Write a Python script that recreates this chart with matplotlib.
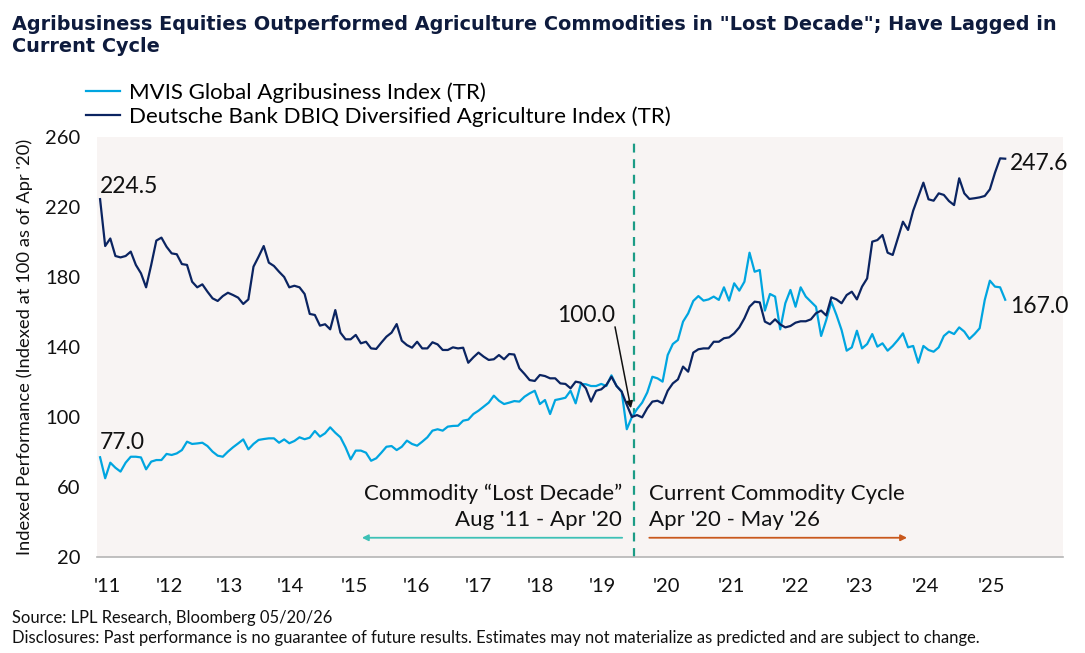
import numpy as np
import matplotlib
matplotlib.use("Agg")
import matplotlib.pyplot as plt

# =========================
# DATA (monthly, Aug '11 - May '26)
# =========================
mvis = [
    77.0, 65.0, 73.9, 71.0, 68.8, 73.9, 77.3, 77.3, 76.9, 70.1,
    74.5, 75.4, 75.4, 78.9, 78.3, 79.2, 81.1, 85.9, 84.6, 84.9,
    85.3, 83.4, 80.2, 77.9, 77.3, 80.2, 82.7, 84.9, 87.2, 81.5,
    84.6, 86.9, 87.4, 87.8, 87.8, 85.3, 87.2, 85.0, 86.3, 88.4,
    87.3, 88.2, 92.0, 88.8, 90.7, 94.1, 91.0, 88.4, 82.7, 75.8,
    80.8, 80.8, 79.6, 75.0, 76.4, 79.6, 83.0, 83.4, 81.1, 83.0,
    86.5, 84.6, 83.6, 85.9, 88.4, 92.2, 93.0, 92.2, 94.5, 94.9,
    95.0, 97.9, 98.5, 101.7, 103.6, 105.9, 108.2, 112.2, 109.3, 107.4,
    108.2, 109.1, 108.8, 111.6, 113.5, 115.0, 107.4, 109.7, 101.7, 109.7,
    110.3, 111.0, 115.0, 107.8, 118.9, 118.7, 117.7, 117.7, 118.9, 117.7,
    123.8, 117.7, 114.5, 93.0, 100.0, 104.5, 108.2, 114.0, 123.0, 122.1,
    120.2, 135.4, 141.7, 144.0, 154.5, 159.2, 166.3, 169.1, 166.5, 167.2,
    168.8, 166.9, 174.1, 166.5, 176.4, 172.2, 177.3, 193.9, 183.0, 184.0,
    160.8, 170.3, 168.8, 150.1, 165.0, 172.6, 163.0, 174.1, 168.8, 165.9,
    163.0, 146.3, 155.4, 165.9, 158.3, 149.7, 137.9, 139.8, 149.3, 139.2,
    141.7, 147.4, 140.2, 142.1, 137.9, 140.6, 144.0, 147.8, 139.8, 140.6,
    131.0, 140.6, 138.3, 137.3, 139.8, 146.3, 148.8, 147.4, 151.2, 148.8,
    144.6, 147.4, 150.7, 166.9, 177.9, 174.5, 174.1, 167.0,
]

dbiq = [
    224.5, 197.7, 202.0, 192.0, 191.2, 192.0, 194.5, 186.9, 182.1, 174.1,
    186.9, 200.8, 202.5, 197.3, 193.5, 193.0, 187.4, 186.9, 177.3, 174.1,
    175.8, 171.6, 167.8, 166.3, 169.1, 171.0, 169.7, 168.2, 164.6, 167.2,
    185.9, 191.6, 197.7, 188.2, 186.3, 183.0, 180.0, 174.1, 175.0, 174.1,
    170.3, 158.9, 158.3, 152.2, 153.0, 150.1, 161.1, 148.2, 144.4, 144.4,
    146.9, 142.1, 143.0, 139.2, 138.9, 142.5, 145.9, 148.2, 153.1, 143.6,
    141.1, 139.6, 143.0, 139.2, 139.2, 142.7, 141.5, 138.3, 138.3, 139.8,
    139.2, 139.6, 131.0, 134.1, 136.8, 134.5, 132.6, 133.0, 135.4, 133.0,
    136.0, 135.7, 127.8, 124.6, 121.1, 120.6, 124.0, 123.4, 122.1, 122.1,
    119.2, 118.9, 116.4, 120.2, 119.6, 116.4, 108.8, 115.0, 115.8, 118.3,
    123.0, 117.7, 114.5, 107.0, 100.0, 101.1, 99.8, 105.0, 108.8, 109.3,
    107.8, 115.0, 119.2, 121.5, 128.8, 125.9, 136.8, 138.7, 139.2, 139.2,
    143.0, 143.0, 145.0, 145.5, 147.8, 151.2, 156.4, 163.0, 165.9, 165.5,
    154.5, 153.0, 155.8, 152.9, 151.2, 152.0, 153.9, 154.7, 154.7, 155.8,
    159.3, 160.8, 158.0, 168.4, 167.2, 165.0, 169.7, 171.6, 167.2, 174.5,
    179.2, 200.2, 201.1, 204.0, 193.9, 192.6, 202.1, 211.6, 206.9, 217.9,
    225.9, 233.9, 224.4, 223.6, 227.8, 226.9, 223.4, 221.1, 236.4, 227.8,
    224.6, 225.0, 225.5, 226.3, 230.1, 239.6, 247.8, 247.6,
]

year_labels = ["'11", "'12", "'13", "'14", "'15", "'16", "'17", "'18",
               "'19", "'20", "'21", "'22", "'23", "'24", "'25"]
yticks = [20, 60, 100, 140, 180, 220, 260]

# =========================
# STYLE
# =========================
W, H = 1085, 653
FONT = "Lato"
LIGHT = "#00a5e0"
DARK = "#0b2461"
NAVY = "#0e1b3d"
TEAL = "#1c9c86"
ORANGE = "#c9581c"
BG = "#f8f4f3"

plt.rcParams["font.family"] = [FONT, "DejaVu Sans"]

x = np.arange(len(mvis))
start_idx = 0
rebase_idx = 104            # Apr '20
end_idx = len(mvis) - 1

# tick positions (month index) as laid out on the original axis
tick_pos = [1.5, 13.5, 25.3, 37.3, 49.8, 61.8, 73.9, 86.1, 98.2,
            110.8, 123.5, 135.9, 148.6, 161.4, 174.4]

fig = plt.figure(figsize=(W / 100, H / 100), dpi=100)
ax = fig.add_axes([97 / W, 1 - 557 / H, (1063 - 97) / W, (557 - 137) / H])
ax.set_facecolor(BG)

line_m, = ax.plot(x, mvis, color=LIGHT, lw=1.6, zorder=3,
                  label="MVIS Global Agribusiness Index (TR)")
line_d, = ax.plot(x, dbiq, color=DARK, lw=1.6, zorder=3,
                  label="Deutsche Bank DBIQ Diversified Agriculture Index (TR)")

ax.set_xlim(-0.6, 188.3)
ax.set_ylim(20, 260)
ax.set_yticks(yticks)
ax.set_xticks(tick_pos)
ax.set_xticklabels(year_labels)
ax.tick_params(axis="both", length=0, labelsize=14.5, colors="#111111")
ax.tick_params(axis="y", pad=12)
ax.tick_params(axis="x", pad=15)
for s in ["top", "right", "left"]:
    ax.spines[s].set_visible(False)
ax.spines["bottom"].set_color("#b5b5b5")
ax.spines["bottom"].set_linewidth(1.2)

ax.set_ylabel("Indexed Performance (Indexed at 100 as of Apr '20)",
              fontsize=13.2, color="#111111", labelpad=9)

# regime split
ax.axvline(rebase_idx + 0.45, color=TEAL, lw=1.6, ls=(0, (4, 3)), zorder=2)

# =========================
# ANNOTATIONS
# =========================
lbl = dict(fontsize=16.5, color="#111111")
ax.text(start_idx, dbiq[start_idx] + 7, f"{dbiq[start_idx]:.1f}", ha="left", va="center", **lbl)
ax.text(start_idx, mvis[start_idx] + 8.5, f"{mvis[start_idx]:.1f}", ha="left", va="center", **lbl)
ax.text(end_idx + 1, dbiq[end_idx] - 3, f"{dbiq[end_idx]:.1f}", ha="left", va="center", **lbl)
ax.text(end_idx + 1, mvis[end_idx] - 4, f"{mvis[end_idx]:.1f}", ha="left", va="center", **lbl)
ax.text(95, 158, f"{dbiq[rebase_idx]:.1f}", ha="center", va="center", **lbl)
ax.annotate("", xy=(rebase_idx - 0.2, 105), xytext=(100.7, 151.5),
            arrowprops=dict(arrowstyle="-|>", color="#111111", lw=1.1,
                            mutation_scale=10, shrinkA=0, shrinkB=0))

per = dict(fontsize=16, color="#111111", va="center")
ax.text(102.1, 56, "Commodity \u201cLost Decade\u201d", ha="right", **per)
ax.text(102.1, 41, "Aug '11 - Apr '20", ha="right", **per)
ax.text(107.4, 56, "Current Commodity Cycle", ha="left", **per)
ax.text(107.4, 41, "Apr '20 - May '26", ha="left", **per)
ax.annotate("", xy=(51.2, 31), xytext=(102.1, 31),
            arrowprops=dict(arrowstyle="-|>", color="#3ec1b6", lw=1.3, mutation_scale=9,
                            shrinkA=0, shrinkB=0))
ax.annotate("", xy=(157.8, 31), xytext=(107.4, 31),
            arrowprops=dict(arrowstyle="-|>", color=ORANGE, lw=1.3, mutation_scale=9,
                            shrinkA=0, shrinkB=0))

# =========================
# LEGEND / TITLE / FOOTER
# =========================
fig.legend(handles=[line_m, line_d], loc="upper left",
           bbox_to_anchor=(86 / W, 1 - 82 / H), frameon=False,
           fontsize=16, handlelength=1.55, handletextpad=0.4,
           labelspacing=0.18, borderaxespad=0, borderpad=0)

fig.text(12 / W, 1 - 15 / H,
         "Agribusiness Equities Outperformed Agriculture Commodities in \"Lost Decade\"; Have Lagged in\nCurrent Cycle",
         fontsize=13.9, fontweight="bold", color=NAVY, ha="left", va="top",
         linespacing=1.2, family="DejaVu Sans")

fig.text(12 / W, 1 - 618 / H, "Source: LPL Research, Bloomberg 05/20/26",
         fontsize=11.9, color="#111111", ha="left", va="center")
fig.text(12 / W, 1 - 638 / H,
         "Disclosures: Past performance is no guarantee of future results. Estimates may not materialize as predicted and are subject to change.",
         fontsize=11.9, color="#111111", ha="left", va="center")

fig.savefig("out.png", dpi=100, facecolor="white")
